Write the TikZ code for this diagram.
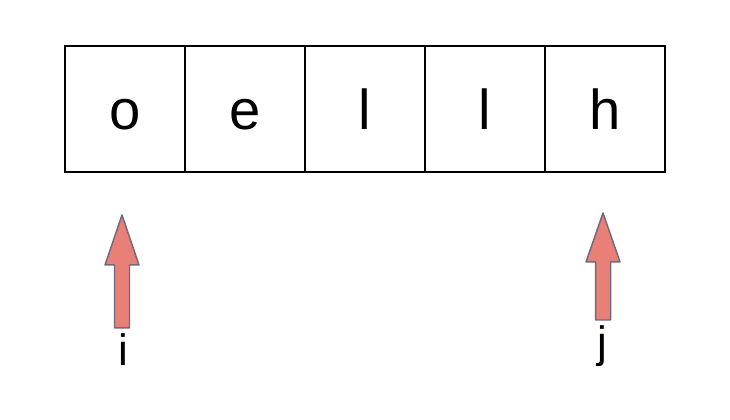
\documentclass[tikz,border=0pt]{standalone}
\usepackage{fontspec}
\setmainfont{Liberation Sans}
\usetikzlibrary{positioning}

\definecolor{ptrfill}{RGB}{232,128,120}
\definecolor{ptredge}{RGB}{115,105,125}

\tikzset{
    cell/.style={draw, line width=1.1pt, minimum width=2.4cm, minimum height=2.52cm,
        inner sep=0pt, outer sep=0pt, text height=0.84cm, text depth=0cm,
        font=\fontsize{32}{38}\selectfont},
    ptr/.style={draw=ptredge, fill=ptrfill, line width=0.85pt, line join=round},
    lbl/.style={inner sep=0pt, anchor=north, font=\fontsize{25}{30}\selectfont}
}

\begin{document}
\begin{tikzpicture}
    \useasboundingbox (0,0) rectangle (14.6,8.4);

    % the string, reversed
    \node[cell] (c1) at (2.5,6.22) {o};
    \node[cell, right=0pt of c1] (c2) {e};
    \node[cell, right=0pt of c2] (c3) {l};
    \node[cell, right=0pt of c3] (c4) {l};
    \node[cell, right=0pt of c4] (c5) {h};

    % pointer i
    \coordinate (tip i) at (2.44,4.10);
    \draw[ptr] (tip i) -- ++(-0.34,-1.0) -- ++(0.19,0) -- ++(0,-1.26)
        -- ++(0.30,0) -- ++(0,1.26) -- ++(0.19,0) -- cycle;
    \node[lbl] (i) at (2.46,1.74) {i};

    % pointer j
    \coordinate (tip j) at (12.06,4.14);
    \draw[ptr] (tip j) -- ++(-0.34,-0.98) -- ++(0.19,0) -- ++(0,-1.16)
        -- ++(0.30,0) -- ++(0,1.16) -- ++(0.19,0) -- cycle;
    \node[lbl] (j) at (12.04,1.90) {j};
\end{tikzpicture}
\end{document}
